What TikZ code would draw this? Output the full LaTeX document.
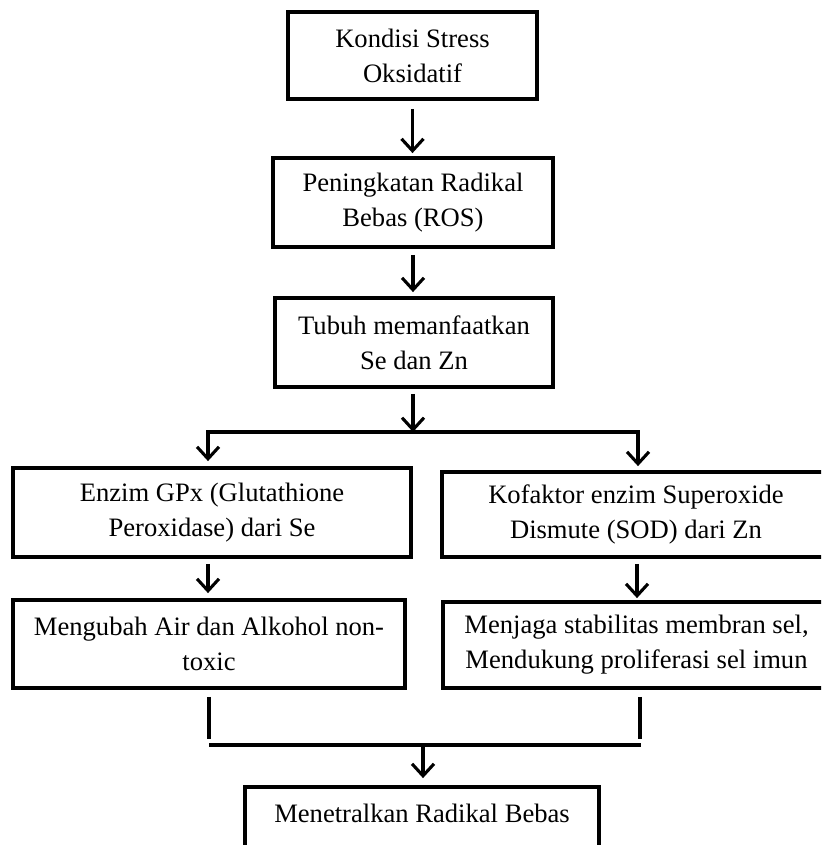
\documentclass[tikz,border=0pt]{standalone}
\usepackage{fontspec}
\setmainfont{Liberation Serif}
\usetikzlibrary{arrows.meta}

\begin{document}
\begin{tikzpicture}[x=1pt,y=-1pt,
    box/.style={draw,line width=3.8pt,align=center,inner sep=0pt,font=\fontsize{26.6}{35}\selectfont},
    link/.style={line width=3.1pt},
    arr/.style={link,-{Straight Barb[length=12pt,width=22pt]}}]
    \path[use as bounding box,clip] (0,0) rectangle (821,845);
    \node[box,minimum width=249pt,minimum height=87pt](stress) at (412.5,55.5){Kondisi Stress\\Oksidatif};
    \node[box,minimum width=280pt,minimum height=89pt](ros) at (413,202.5){Peningkatan Radikal\\Bebas (ROS)};
    \node[box,minimum width=278pt,minimum height=89pt](tubuh) at (414,342.5){Tubuh memanfaatkan\\Se dan Zn};
    \node[box,minimum width=398pt,minimum height=89pt](gpx) at (212,512.5){Enzim GPx (Glutathione\\Peroxidase) dari Se};
    \node[box,minimum width=388pt,minimum height=85pt](sod) at (636,514.5){Kofaktor enzim Superoxide\\Dismute (SOD) dari Zn};
    \node[box,minimum width=392pt,minimum height=88pt](air) at (209,644){Mengubah Air dan Alkohol non-\\toxic};
    \node[box,minimum width=387pt,minimum height=86pt](jaga) at (636.5,645){Menjaga stabilitas membran sel,\\Mendukung proliferasi sel imun};
    \node[box,minimum width=354pt,minimum height=88pt](netral) at (422,831){Menetralkan Radikal Bebas\\\mbox{}};
    % split
    \coordinate (mid) at (413,432);
    \coordinate (sl) at (208,432);
    \coordinate (sr) at (638,432);
    % join
    \coordinate (jl) at (209,745);
    \coordinate (jr) at (641,745);
    \coordinate (jm) at (423,745);
    \draw[arr,shorten <=8pt,shorten >=3pt] (stress.south) -- (stress.south |- ros.north);
    \draw[arr,shorten <=6pt,shorten >=4pt] (ros.south) -- (ros.south |- tubuh.north);
    \draw[arr,shorten <=5pt] (tubuh.south -| mid) -- (mid);
    \draw[arr,shorten >=5pt] (sr) -- (sl) -- (sl |- gpx.north);
    \draw[arr,shorten >=4pt] (sl) -- (sr) -- (sr |- sod.north);
    \draw[arr,shorten <=5pt,shorten >=5pt] (gpx.south -| sl) -- (sl |- air.north);
    \draw[arr,shorten <=5pt,shorten >=2pt] (sod.south -| 637,0) -- (637,0 |- jaga.north);
    \draw[link,shorten <=7pt,shorten >=6pt] (air.south -| jl) -- (jl);
    \draw[link,shorten <=7pt,shorten >=6pt] (jaga.south -| 640,0) -- (640,0 |- jr);
    \draw[link] (jl) -- (jr);
    \draw[arr,shorten >=7pt] (jm) -- (jm |- netral.north);
\end{tikzpicture}
\end{document}
